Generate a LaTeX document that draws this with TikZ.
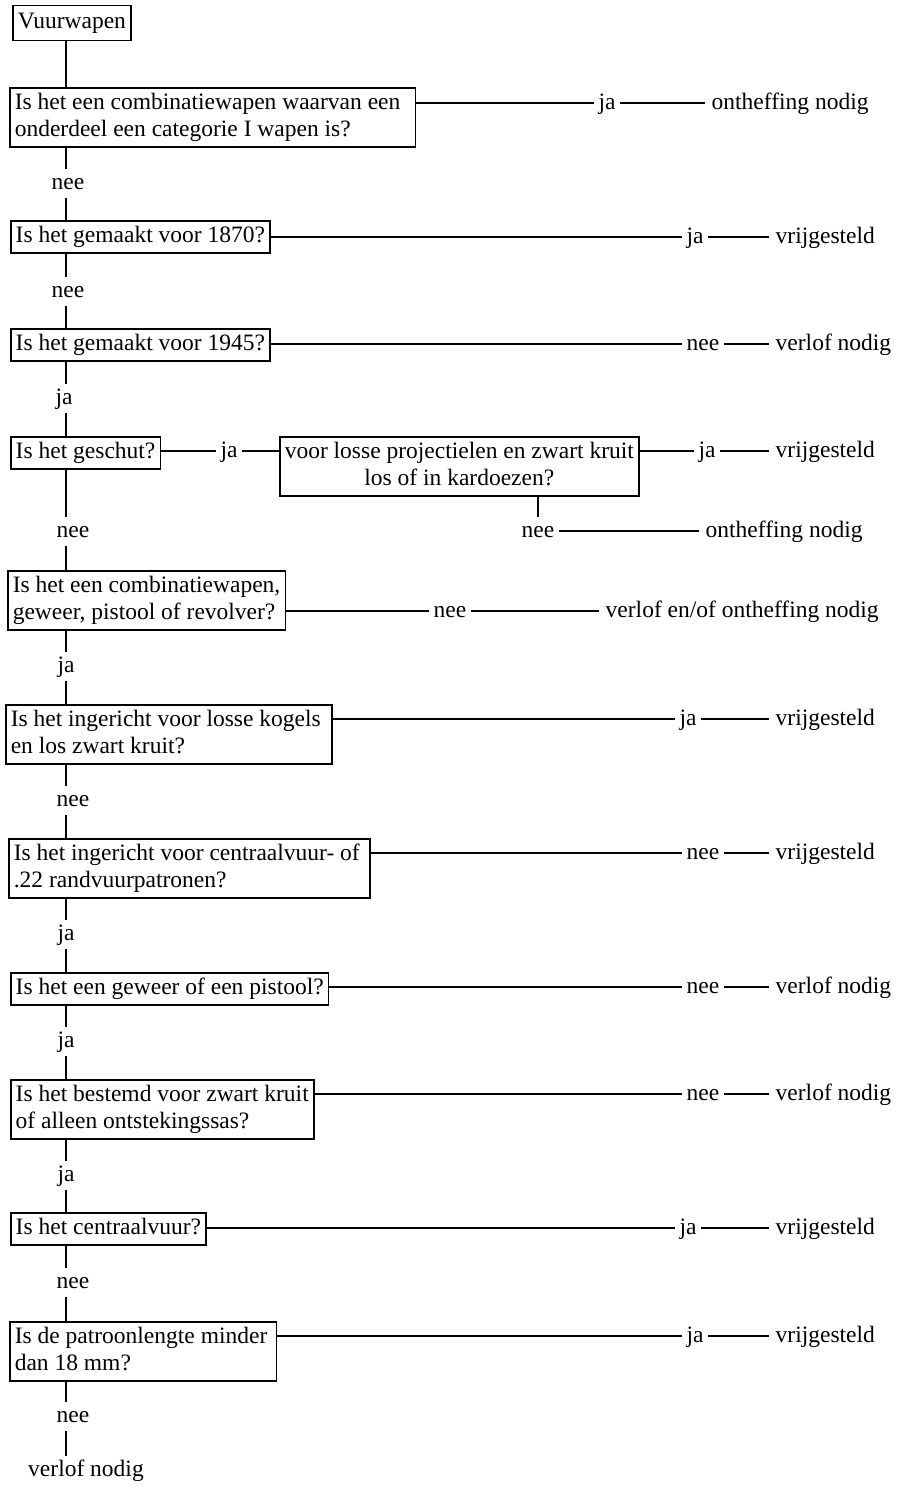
\documentclass[tikz,border=0pt]{standalone}
\usepackage{fontspec}
\setmainfont{Liberation Serif}
\usetikzlibrary{positioning,calc}

\begin{document}
\begin{tikzpicture}[
  x=1pt, y=-1pt,
  font=\fontsize{23.5}{27}\selectfont,
  line width=1.4pt,
  box/.style={draw, line width=1.5pt, inner xsep=5pt, inner ysep=2.5pt,
              anchor=north west, align=left},
  lab/.style={inner xsep=4pt, inner ysep=3pt, text height=17pt, text depth=4.6pt},
  res/.style={lab, anchor=west, inner xsep=6pt},
  flow/.style={draw, line width=1.4pt},
]
\useasboundingbox (0,0) rectangle (898,1488);

% ---------------- questions (left column) ----------------
\node[box, minimum height=35pt] (start) at (12,5) {Vuurwapen};
\node[box] (q1)  at (9,87)    {\strut Is het een combinatiewapen waarvan een\hspace*{10pt}\\onderdeel een categorie I wapen is?\strut};
\node[box] (q2)  at (10,220)  {\strut Is het gemaakt voor 1870?};
\node[box] (q3)  at (10,328)  {\strut Is het gemaakt voor 1945?};
\node[box] (q4)  at (10,436)  {\strut Is het geschut?};
\node[box, align=center] (q5) at (279,436) {\strut voor losse projectielen en zwart kruit\\los of in kardoezen?\strut};
\node[box] (q6)  at (7,570)   {\strut Is het een combinatiewapen,\\geweer, pistool of revolver?\strut};
\node[box] (q7)  at (5,704)   {\strut Is het ingericht voor losse kogels\hspace*{6pt}\\en los zwart kruit?\strut};
\node[box] (q8)  at (8,838)   {\strut Is het ingericht voor centraalvuur- of\hspace*{5pt}\\.22 randvuurpatronen?\strut};
\node[box] (q9)  at (10,972)  {\strut Is het een geweer of een pistool?};
\node[box] (q10) at (10,1079) {\strut Is het bestemd voor zwart kruit\\of alleen ontstekingssas?\strut};
\node[box] (q11) at (10,1212) {\strut Is het centraalvuur?};
\node[box] (q12) at (9,1321)  {\strut Is de patroonlengte minder\hspace*{4pt}\\dan 18 mm?\strut};
\node[lab] (end) at (86,1470) {verlof nodig};

% ---------------- spine ----------------
\coordinate (spine) at (66,0);
\draw[flow] (start.south -| spine) -- (q1.north -| spine);
\foreach \a/\b/\x/\y/\t in {q1/q2/68/183/nee, q2/q3/68/291/nee, q3/q4/64/398/ja,
    q4/q6/73/531/nee, q6/q7/66/666/ja, q7/q8/73/800/nee, q8/q9/66/934/ja,
    q9/q10/66/1041/ja, q10/q11/66/1175/ja, q11/q12/73/1282/nee, q12/end/73/1416/nee} {
  \node[lab] (v-\a) at (\x,\y) {\t};
  \draw[flow] (\a.south -| spine) -- (v-\a.north -| spine);
  \draw[flow] (v-\a.south -| spine) -- (\b.north -| spine);
}

% ---------------- answers (right column) ----------------
\foreach \q/\y/\lx/\l/\r in {q2/237/695/ja/vrijgesteld, q3/344/703/nee/verlof nodig,
    q7/719/688/ja/vrijgesteld, q8/853/703/nee/vrijgesteld, q9/987/703/nee/verlof nodig,
    q10/1094/703/nee/verlof nodig, q11/1228/688/ja/vrijgesteld, q12/1336/695/ja/vrijgesteld} {
  \node[lab] (l-\q) at (\lx,\y) {\l};
  \node[res] (r-\q) at (769,\y) {\r};
  \draw[flow] (\q.east |- l-\q) -- (l-\q.west);
  \draw[flow] (l-\q.east) -- (r-\q.west);
}

% combination weapon with category I part
\node[lab] (l-q1) at (607,103) {ja};
\node[res] (r-q1) at (705,103) {ontheffing nodig};
\draw[flow] (q1.east |- l-q1) -- (l-q1.west);
\draw[flow] (l-q1.east) -- (r-q1.west);

% geschut branch
\node[lab] (l-q4) at (229,451) {ja};
\draw[flow] (q4.east |- l-q4) -- (l-q4.west);
\draw[flow] (l-q4.east) -- (q5.west |- l-q4);
\node[lab] (l-q5) at (707,451) {ja};
\node[res] (r-q5) at (769,451) {vrijgesteld};
\draw[flow] (q5.east |- l-q5) -- (l-q5.west);
\draw[flow] (l-q5.east) -- (r-q5.west);
\node[lab] (n-q5) at (538,531) {nee};
\node[res] (s-q5) at (699,531) {ontheffing nodig};
\draw[flow] (q5.south -| n-q5) -- (n-q5.north);
\draw[flow] (n-q5.east) -- (s-q5.west);

% combinatiewapen, geweer, pistool of revolver
\node[lab] (l-q6) at (450,611) {nee};
\node[res] (r-q6) at (599,611) {verlof en/of ontheffing nodig};
\draw[flow] (q6.east |- l-q6) -- (l-q6.west);
\draw[flow] (l-q6.east) -- (r-q6.west);

\end{tikzpicture}
\end{document}
